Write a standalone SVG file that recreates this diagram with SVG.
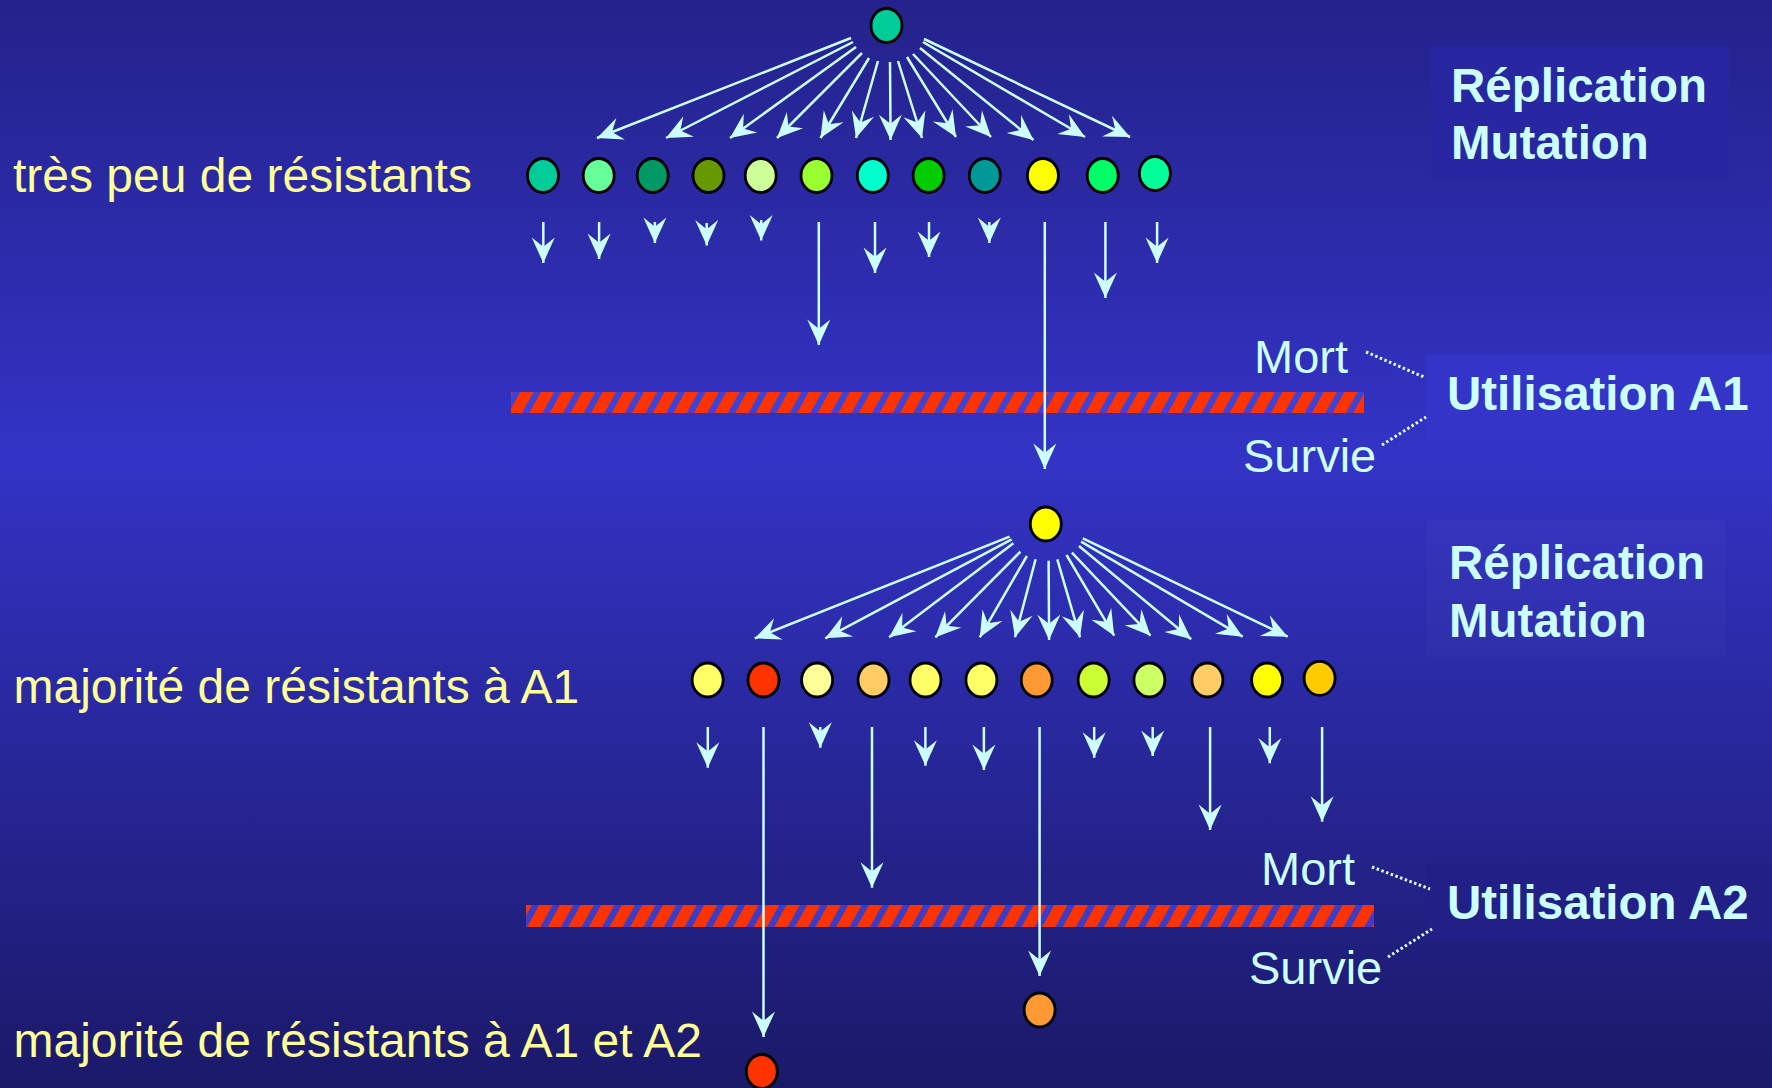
<svg xmlns="http://www.w3.org/2000/svg" width="1772" height="1088" viewBox="0 0 1772 1088">
  <defs>
    <linearGradient id="bg" x1="0" y1="0" x2="0" y2="1">
      <stop offset="0" stop-color="#24228a"/>
      <stop offset="0.42" stop-color="#3333c6"/>
      <stop offset="1" stop-color="#1b1968"/>
    </linearGradient>
    <pattern id="hatch1" patternUnits="userSpaceOnUse" x="511" y="392" width="20.6" height="42" patternTransform="skewX(-29)">
      <rect x="0" y="0" width="20.6" height="42" fill="#4141d2"/>
      <rect x="0" y="0" width="13.2" height="42" fill="#ff3300"/>
    </pattern>
    <pattern id="hatch2" patternUnits="userSpaceOnUse" x="526" y="905" width="20.6" height="42" patternTransform="skewX(-29)">
      <rect x="0" y="0" width="20.6" height="42" fill="#3c3cc4"/>
      <rect x="0" y="0" width="13.2" height="42" fill="#ff3300"/>
    </pattern>
    <marker id="ah" markerUnits="userSpaceOnUse" markerWidth="30" markerHeight="30" viewBox="-24 -12 26 24" refX="0" refY="0" orient="auto">
      <path d="M0,0 L-22,-10 L-14,0 L-22,10 Z" fill="#ccffff"/>
    </marker>
    <style>
      .cell { stroke: #000; stroke-width: 2.8; }
      .arr { stroke: #ccffff; stroke-width: 2.5; marker-end: url(#ah); }
      .dot { stroke: #ddffff; stroke-width: 3; stroke-dasharray: 2.5 2.5; fill: none; }
      .lbl { font-family: "Liberation Sans", Arial, sans-serif; font-size: 48px; fill: #ffff99; }
      .ms { font-family: "Liberation Sans", Arial, sans-serif; font-size: 47px; fill: #ccffff; }
      .ttl { font-family: "Liberation Sans", Arial, sans-serif; font-size: 47.5px; font-weight: bold; fill: #ccffff; }
    </style>
  </defs>

  <rect x="0" y="0" width="1772" height="1088" fill="url(#bg)"/>

  <!-- side boxes -->
  <rect x="1431" y="46" width="298" height="135" fill="#2826a0"/>
  <rect x="1427" y="520" width="298" height="137" fill="#ffffff" fill-opacity="0.02"/>
  <rect x="1426" y="355" width="346" height="86" fill="#3434c8"/>
  <rect x="1426" y="863" width="346" height="78" fill="#221f86"/>

  <!-- hatched bars -->
  <g id="bar-A1"><rect x="511" y="392" width="853" height="21" fill="url(#hatch1)"/></g>
  <g id="bar-A2"><rect x="526" y="905" width="848" height="22" fill="url(#hatch2)"/></g>

  <!-- connectors -->
  <g id="connectors">
    <!-- fan 1 -->
    <line class="arr" x1="851" y1="38" x2="597" y2="138"/>
    <line class="arr" x1="853" y1="42" x2="666" y2="138"/>
    <line class="arr" x1="856" y1="47" x2="730" y2="138"/>
    <line class="arr" x1="862" y1="53" x2="777" y2="138"/>
    <line class="arr" x1="869" y1="58" x2="820.5" y2="138"/>
    <line class="arr" x1="878" y1="61" x2="856" y2="138"/>
    <line class="arr" x1="890" y1="62" x2="890.6" y2="140"/>
    <line class="arr" x1="898" y1="61" x2="922" y2="138"/>
    <line class="arr" x1="907" y1="57" x2="956" y2="137"/>
    <line class="arr" x1="913" y1="54" x2="991" y2="137"/>
    <line class="arr" x1="920" y1="48" x2="1033.5" y2="140"/>
    <line class="arr" x1="923" y1="42" x2="1085" y2="137"/>
    <line class="arr" x1="924" y1="39" x2="1130" y2="137"/>
    <!-- row 1 down -->
    <line class="arr" x1="543.3" y1="222" x2="543.3" y2="263"/>
    <line class="arr" x1="599.1" y1="222" x2="599.1" y2="259"/>
    <line class="arr" x1="654.9" y1="222" x2="654.9" y2="243"/>
    <line class="arr" x1="706.7" y1="223" x2="706.7" y2="245.5"/>
    <line class="arr" x1="761.2" y1="220" x2="761.2" y2="240.5"/>
    <line class="arr" x1="818.8" y1="222" x2="818.8" y2="345"/>
    <line class="arr" x1="875" y1="222" x2="875" y2="273"/>
    <line class="arr" x1="929" y1="222" x2="929" y2="257"/>
    <line class="arr" x1="989.3" y1="222" x2="989.3" y2="243"/>
    <line class="arr" x1="1044.8" y1="222" x2="1044.8" y2="469"/>
    <line class="arr" x1="1105.4" y1="222" x2="1105.4" y2="298"/>
    <line class="arr" x1="1157.1" y1="222" x2="1157.1" y2="263"/>
    <!-- fan 2 -->
    <line class="arr" x1="1009.6" y1="536.7" x2="754.8" y2="638.3"/>
    <line class="arr" x1="1011.7" y1="539.3" x2="825.3" y2="638.3"/>
    <line class="arr" x1="1013.4" y1="543.3" x2="889.2" y2="637.3"/>
    <line class="arr" x1="1020.4" y1="551.7" x2="935.3" y2="637.3"/>
    <line class="arr" x1="1026.9" y1="556" x2="979.8" y2="637.3"/>
    <line class="arr" x1="1035.6" y1="559.3" x2="1015" y2="637.3"/>
    <line class="arr" x1="1048.6" y1="560.7" x2="1049.1" y2="640"/>
    <line class="arr" x1="1057.3" y1="559.3" x2="1080" y2="637.3"/>
    <line class="arr" x1="1066.5" y1="555" x2="1114.2" y2="635.7"/>
    <line class="arr" x1="1071.9" y1="552.7" x2="1150.5" y2="635.7"/>
    <line class="arr" x1="1079" y1="546" x2="1191.2" y2="639.3"/>
    <line class="arr" x1="1081.1" y1="541.7" x2="1242.7" y2="636.7"/>
    <line class="arr" x1="1082.8" y1="538.3" x2="1287.7" y2="636.7"/>
    <!-- row 2 down -->
    <line class="arr" x1="707.8" y1="727" x2="707.8" y2="767.7"/>
    <line class="arr" x1="763.5" y1="727" x2="763.5" y2="1037"/>
    <line class="arr" x1="820.3" y1="727" x2="820.3" y2="747.7"/>
    <line class="arr" x1="872" y1="727" x2="872" y2="887.7"/>
    <line class="arr" x1="925.4" y1="727" x2="925.4" y2="765.7"/>
    <line class="arr" x1="983.9" y1="727" x2="983.9" y2="770"/>
    <line class="arr" x1="1039.6" y1="727" x2="1039.6" y2="976"/>
    <line class="arr" x1="1094.2" y1="727" x2="1094.2" y2="757.7"/>
    <line class="arr" x1="1152.7" y1="727" x2="1152.7" y2="756"/>
    <line class="arr" x1="1210.1" y1="727" x2="1210.1" y2="830"/>
    <line class="arr" x1="1269.8" y1="727" x2="1269.8" y2="763.3"/>
    <line class="arr" x1="1322.1" y1="727" x2="1322.1" y2="821.7"/>
    <!-- dotted leaders -->
    <line class="dot" x1="1366" y1="352" x2="1424" y2="377"/>
    <line class="dot" x1="1382" y1="445" x2="1426" y2="417"/>
    <line class="dot" x1="1372" y1="867" x2="1430" y2="889"/>
    <line class="dot" x1="1388" y1="957" x2="1432" y2="929"/>
  </g>

  <!-- generation 0 -->
  <g id="parent-1"><ellipse class="cell" cx="886.5" cy="25.5" rx="15.5" ry="17" fill="#00cc99"/></g>

  <!-- generation 1 -->
  <g id="row1">
    <g id="r1-1"><ellipse class="cell" cx="543" cy="175.5" rx="15.5" ry="17" fill="#00cc99"/></g>
    <g id="r1-2"><ellipse class="cell" cx="598.7" cy="175.5" rx="15.5" ry="17" fill="#66ff99"/></g>
    <g id="r1-3"><ellipse class="cell" cx="652.7" cy="175.5" rx="15.5" ry="17" fill="#009966"/></g>
    <g id="r1-4"><ellipse class="cell" cx="708.5" cy="175.5" rx="15.5" ry="17" fill="#669900"/></g>
    <g id="r1-5"><ellipse class="cell" cx="760.7" cy="175.5" rx="15.5" ry="17" fill="#ccff99"/></g>
    <g id="r1-6"><ellipse class="cell" cx="816.5" cy="175.5" rx="15.5" ry="17" fill="#99ff33"/></g>
    <g id="r1-7"><ellipse class="cell" cx="872.8" cy="175.5" rx="15.5" ry="17" fill="#00ffcc"/></g>
    <g id="r1-8"><ellipse class="cell" cx="928.6" cy="175.5" rx="15.5" ry="17" fill="#00cc00"/></g>
    <g id="r1-9"><ellipse class="cell" cx="984.8" cy="175.5" rx="15.5" ry="17" fill="#009999"/></g>
    <g id="r1-10"><ellipse class="cell" cx="1042.9" cy="175.5" rx="15.5" ry="17" fill="#ffff00"/></g>
    <g id="r1-11"><ellipse class="cell" cx="1102.7" cy="175.5" rx="15.5" ry="17" fill="#00ff66"/></g>
    <g id="r1-12"><ellipse class="cell" cx="1154.9" cy="173.5" rx="15.5" ry="17" fill="#00ff99"/></g>
  </g>

  <!-- survivor / parent 2 -->
  <g id="parent-2"><ellipse class="cell" cx="1045.8" cy="524" rx="15.5" ry="17" fill="#ffff00"/></g>

  <!-- generation 2 -->
  <g id="row2">
    <g id="r2-1"><ellipse class="cell" cx="707.6" cy="680" rx="15.5" ry="17" fill="#ffff66"/></g>
    <g id="r2-2"><ellipse class="cell" cx="763.5" cy="680" rx="15.5" ry="17" fill="#ff3300"/></g>
    <g id="r2-3"><ellipse class="cell" cx="817.1" cy="680" rx="15.5" ry="17" fill="#ffff99"/></g>
    <g id="r2-4"><ellipse class="cell" cx="873.5" cy="680" rx="15.5" ry="17" fill="#ffcc66"/></g>
    <g id="r2-5"><ellipse class="cell" cx="925.5" cy="680" rx="15.5" ry="17" fill="#ffff66"/></g>
    <g id="r2-6"><ellipse class="cell" cx="981.4" cy="680" rx="15.5" ry="17" fill="#ffff66"/></g>
    <g id="r2-7"><ellipse class="cell" cx="1036.7" cy="680" rx="15.5" ry="17" fill="#ff9933"/></g>
    <g id="r2-8"><ellipse class="cell" cx="1093.6" cy="680" rx="15.5" ry="17" fill="#ccff33"/></g>
    <g id="r2-9"><ellipse class="cell" cx="1149.4" cy="680" rx="15.5" ry="17" fill="#ccff66"/></g>
    <g id="r2-10"><ellipse class="cell" cx="1207.4" cy="680" rx="15.5" ry="17" fill="#ffcc66"/></g>
    <g id="r2-11"><ellipse class="cell" cx="1267.1" cy="680" rx="15.5" ry="17" fill="#ffff00"/></g>
    <g id="r2-12"><ellipse class="cell" cx="1319.6" cy="678.3" rx="15.5" ry="17" fill="#ffcc00"/></g>
  </g>

  <!-- survivors after A2 -->
  <g id="survivor-orange"><ellipse class="cell" cx="1039.6" cy="1010" rx="15.5" ry="17" fill="#ff9933"/></g>
  <g id="survivor-red"><ellipse class="cell" cx="761.8" cy="1071.5" rx="15.5" ry="17" fill="#ff3300"/></g>

  <!-- labels -->
  <g id="labels">
    <text class="lbl" x="13" y="192">très peu de résistants</text>
    <text class="lbl" x="13.5" y="703">majorité de résistants à A1</text>
    <text class="lbl" x="13.5" y="1057">majorité de résistants à A1 et A2</text>
    <text class="ttl" x="1451" y="102">Réplication</text>
    <text class="ttl" x="1451" y="159">Mutation</text>
    <text class="ttl" x="1449" y="579">Réplication</text>
    <text class="ttl" x="1449" y="637">Mutation</text>
    <text class="ttl" x="1447" y="410">Utilisation A1</text>
    <text class="ttl" x="1447" y="919">Utilisation A2</text>
    <text class="ms" x="1254" y="373">Mort</text>
    <text class="ms" x="1243" y="472">Survie</text>
    <text class="ms" x="1261" y="885">Mort</text>
    <text class="ms" x="1249" y="984">Survie</text>
  </g>
</svg>
